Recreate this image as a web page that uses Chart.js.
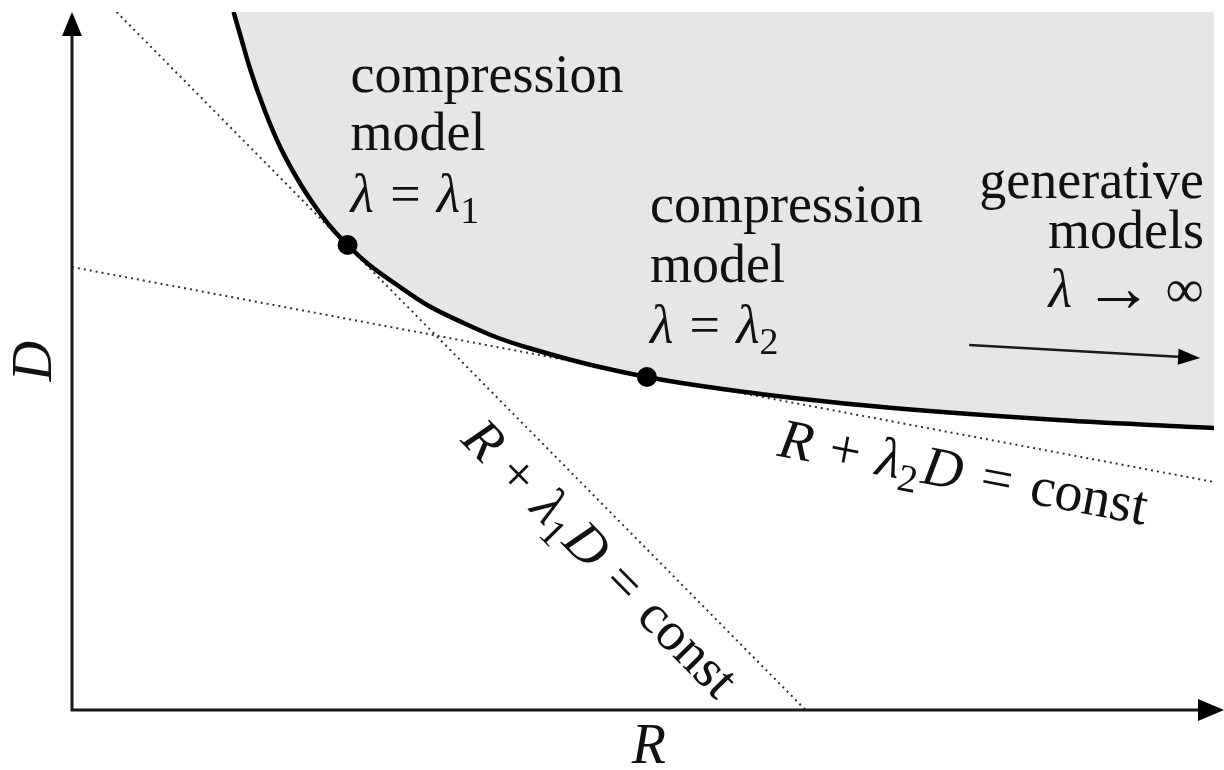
<!DOCTYPE html>
<html>
<head>
<meta charset="utf-8">
<title>Rate–distortion trade-off</title>
<script src="https://cdn.jsdelivr.net/npm/chart.js@4.4.1/dist/chart.umd.min.js"></script>
<style>
  html, body { margin: 0; padding: 0; background: #ffffff; }
  canvas { display: block; }
</style>
</head>
<body>
<canvas id="rd" width="1224" height="770"></canvas>
<script>
// Achievable rate–distortion boundary (R, D)
const rdRate = [1.63, 1.70, 1.80, 1.95, 2.10, 2.28, 2.45, 2.61, 2.78, 3.00, 3.28, 3.60, 3.95, 4.30, 4.61, 5.00, 5.28, 5.80, 6.28, 7.28, 8.28, 9.95, 11.52];
const rdDist = [6.98, 6.74, 6.40, 5.98, 5.63, 5.30, 5.04, 4.83, 4.65, 4.45, 4.25, 4.04, 3.87, 3.72, 3.62, 3.51, 3.44, 3.33, 3.25, 3.12, 3.02, 2.90, 2.82];

// Iso-loss lines R + λD = const (end points)
const tan1Rate = [0.45, 7.40];
const tan1Dist = [6.98, 0.00];
const tan2Rate = [0.00, 11.52];
const tan2Dist = [4.43, 2.28];

// Trained compression models at λ1 and λ2
const modelRate = [2.78, 5.80];
const modelDist = [4.65, 3.33];

const pts = (xs, ys) => xs.map((x, i) => ({ x: x, y: ys[i] }));

const SERIF = '"Liberation Serif", "DejaVu Serif", serif';
const FS = 54;

function fontOf(kind, size) {
  if (kind === 'it') return 'italic ' + size + 'px ' + SERIF;
  if (kind === 'sub') return Math.round(size * 0.7) + 'px ' + SERIF;
  if (kind === 'big') return Math.round(size * 1.3) + 'px ' + SERIF;
  return size + 'px ' + SERIF;
}

// Lays out a row of mixed roman / italic / subscript pieces
function measureRich(ctx, segs, size) {
  let w = 0;
  const out = [];
  for (const s of segs) {
    if (s.gap !== undefined) { w += s.gap * size; continue; }
    ctx.font = fontOf(s.k, size);
    const sw = ctx.measureText(s.t).width;
    out.push({ t: s.t, k: s.k, x: w });
    w += sw;
  }
  return { items: out, width: w };
}

function drawRich(ctx, segs, x, y, align, size) {
  const m = measureRich(ctx, segs, size);
  let x0 = x;
  if (align === 'right') x0 = x - m.width;
  else if (align === 'center') x0 = x - m.width / 2;
  ctx.textAlign = 'left';
  ctx.textBaseline = 'alphabetic';
  for (const it of m.items) {
    ctx.font = fontOf(it.k, size);
    let dy = 0;
    if (it.k === 'sub') dy = size * 0.2;
    if (it.k === 'big') dy = size * 0.07;
    ctx.fillText(it.t, x0 + it.x, y + dy);
  }
}

const rm = t => ({ t: t, k: 'rm' });
const it = t => ({ t: t, k: 'it' });
const sub = t => ({ t: t, k: 'sub' });
const big = t => ({ t: t, k: 'big' });
const gap = g => ({ gap: g });

const textBlocks = [
  { r: 2.81, align: 'left', rows: [
    { d: 6.18, segs: [rm('compression')] },
    { d: 5.60, segs: [rm('model')] },
    { d: 4.98, segs: [it('λ'), gap(0.3), rm('='), gap(0.3), it('λ'), sub('1')] }
  ] },
  { r: 5.83, align: 'left', rows: [
    { d: 4.88, segs: [rm('compression')] },
    { d: 4.28, segs: [rm('model')] },
    { d: 3.67, segs: [it('λ'), gap(0.3), rm('='), gap(0.3), it('λ'), sub('2')] }
  ] },
  { r: 11.42, align: 'right', rows: [
    { d: 5.12, segs: [rm('generative')] },
    { d: 4.62, segs: [rm('models')] },
    { d: 4.03, segs: [it('λ'), gap(0.22), big('→'), gap(0.22), rm('∞')] }
  ] }
];

const lineLabels = [
  { rate: tan1Rate, dist: tan1Dist, along: 546, offset: 57, size: 55,
    segs: [it('R'), gap(0.3), rm('+'), gap(0.3), it('λ'), sub('1'), gap(0.05), it('D'), gap(0.32), rm('='), gap(0.32), rm('const')] },
  { rate: tan2Rate, dist: tan2Dist, along: 727, offset: 55, size: 56,
    segs: [it('R'), gap(0.3), rm('+'), gap(0.3), it('λ'), sub('2'), gap(0.05), it('D'), gap(0.34), rm('='), gap(0.34), rm('const')] }
];

function arrowHead(ctx, tx, ty, ang, len, half) {
  ctx.save();
  ctx.translate(tx, ty);
  ctx.rotate(ang);
  ctx.beginPath();
  ctx.moveTo(0, 0);
  ctx.lineTo(-len, -half);
  ctx.lineTo(-len, half);
  ctx.closePath();
  ctx.fill();
  ctx.restore();
}

const decorations = {
  id: 'decorations',
  afterDraw(chart) {
    const ctx = chart.ctx;
    const xs = chart.scales.x, ys = chart.scales.y;
    const area = chart.chartArea;
    const px = v => xs.getPixelForValue(v);
    const py = v => ys.getPixelForValue(v);
    ctx.save();

    // Axes with arrow heads
    const ox = px(0), oy = py(0);
    ctx.strokeStyle = '#1a1a1a';
    ctx.fillStyle = '#000000';
    ctx.lineWidth = 3;
    ctx.lineCap = 'square';
    ctx.beginPath();
    ctx.moveTo(ox, area.top + 20);
    ctx.lineTo(ox, oy);
    ctx.lineTo(area.right - 10, oy);
    ctx.stroke();
    arrowHead(ctx, ox, area.top, -Math.PI / 2, 24, 10);
    arrowHead(ctx, area.right + 10, oy, 0, 26, 11);

    // Direction arrow towards λ → ∞
    const a0x = px(9.05), a0y = py(3.65), a1x = px(11.38), a1y = py(3.52);
    const ang = Math.atan2(a1y - a0y, a1x - a0x);
    ctx.lineWidth = 2.5;
    ctx.lineCap = 'butt';
    ctx.beginPath();
    ctx.moveTo(a0x, a0y);
    ctx.lineTo(a1x - 18 * Math.cos(ang), a1y - 18 * Math.sin(ang));
    ctx.stroke();
    arrowHead(ctx, a1x, a1y, ang, 22, 8);

    // Annotation blocks
    ctx.fillStyle = '#111111';
    for (const b of textBlocks) {
      for (const row of b.rows) {
        drawRich(ctx, row.segs, px(b.r), py(row.d), b.align, FS);
      }
    }

    // Labels running along the iso-loss lines
    for (const L of lineLabels) {
      const x0 = px(L.rate[0]), y0 = py(L.dist[0]);
      const x1 = px(L.rate[1]), y1 = py(L.dist[1]);
      const len = Math.hypot(x1 - x0, y1 - y0);
      const ux = (x1 - x0) / len, uy = (y1 - y0) / len;
      const nx = -uy, ny = ux;
      const sx = x0 + ux * L.along + nx * L.offset;
      const sy = y0 + uy * L.along + ny * L.offset;
      ctx.save();
      ctx.translate(sx, sy);
      ctx.rotate(Math.atan2(uy, ux));
      drawRich(ctx, L.segs, 0, 0, 'left', L.size);
      ctx.restore();
    }

    // Axis titles
    ctx.font = 'italic ' + (FS + 2) + 'px ' + SERIF;
    ctx.textAlign = 'center';
    ctx.textBaseline = 'middle';
    ctx.fillText('R', px(5.82), py(-0.38));
    ctx.save();
    ctx.translate(px(-0.36), py(3.49));
    ctx.rotate(-Math.PI / 2);
    ctx.fillText('D', 0, 0);
    ctx.restore();

    ctx.restore();
  }
};

new Chart(document.getElementById('rd'), {
  type: 'scatter',
  data: {
    datasets: [
      {
        label: 'models',
        data: pts(modelRate, modelDist),
        showLine: false,
        pointRadius: 10,
        pointBackgroundColor: '#000000',
        pointBorderWidth: 0,
        order: 0
      },
      {
        label: 'R-D boundary',
        data: pts(rdRate, rdDist),
        showLine: true,
        borderColor: '#000000',
        borderWidth: 4.5,
        pointRadius: 0,
        cubicInterpolationMode: 'monotone',
        fill: 'end',
        backgroundColor: '#e6e6e6',
        order: 1
      },
      {
        label: 'λ1 iso-loss',
        data: pts(tan1Rate, tan1Dist),
        showLine: true,
        borderColor: '#333333',
        borderWidth: 2,
        borderDash: [2, 4],
        pointRadius: 0,
        fill: false,
        order: 2
      },
      {
        label: 'λ2 iso-loss',
        data: pts(tan2Rate, tan2Dist),
        showLine: true,
        borderColor: '#333333',
        borderWidth: 2,
        borderDash: [2, 4],
        pointRadius: 0,
        fill: false,
        order: 2
      }
    ]
  },
  options: {
    responsive: false,
    devicePixelRatio: 1,
    animation: false,
    layout: { padding: { left: 72, right: 0, top: 12, bottom: 60 } },
    scales: {
      x: { type: 'linear', min: 0, max: 11.52, display: false },
      y: { type: 'linear', min: 0, max: 6.98, display: false }
    },
    plugins: {
      legend: { display: false },
      tooltip: { enabled: false }
    }
  },
  plugins: [decorations]
});
</script>
</body>
</html>
